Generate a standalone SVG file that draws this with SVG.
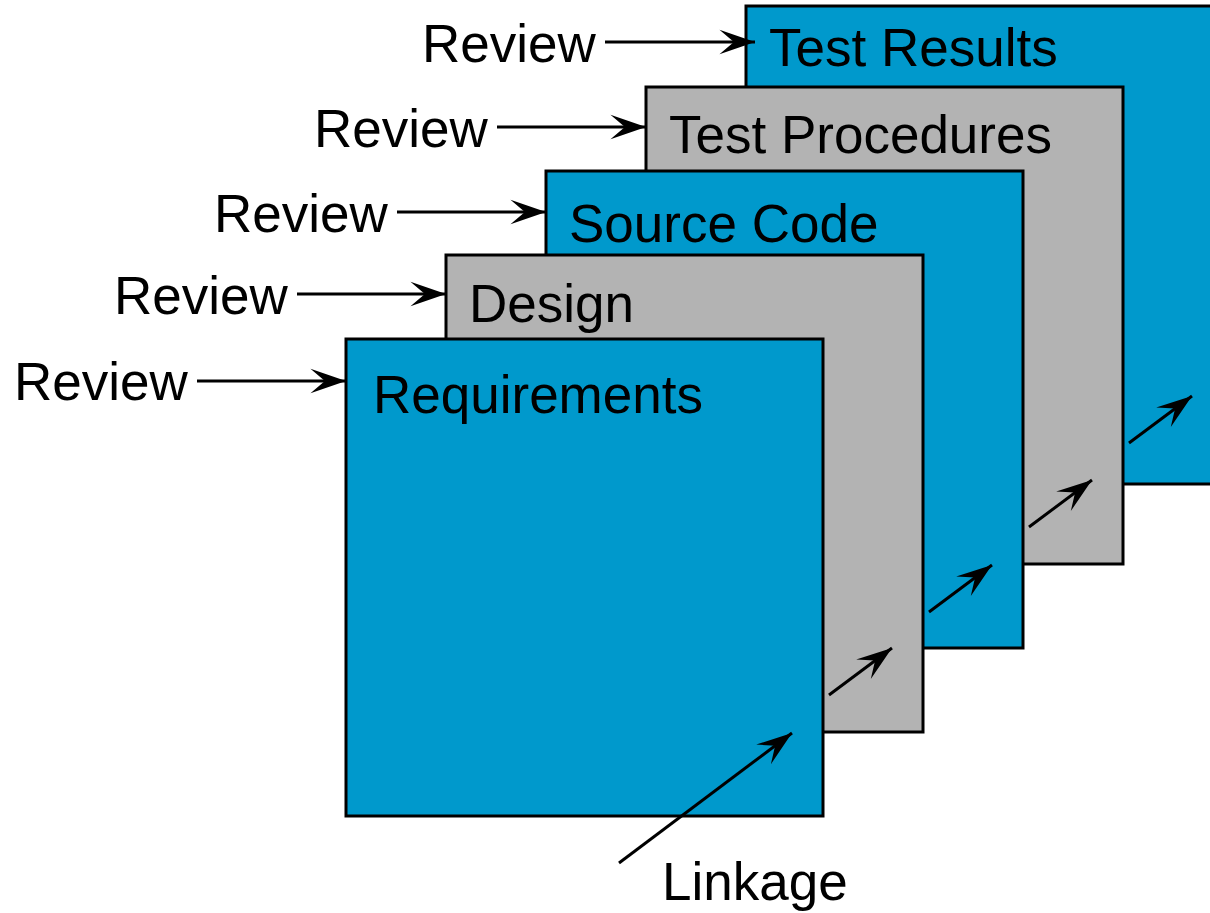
<svg xmlns="http://www.w3.org/2000/svg" width="1210" height="913" viewBox="0 0 1210 913">
  <style>
    .card { stroke: #000; stroke-width: 3; }
    .blue { fill: #0099cc; }
    .gray { fill: #b3b3b3; }
    .lbl { font-family: "Liberation Sans", Arial, sans-serif; font-size: 53px; fill: #000; }
    .conn { stroke: #000; stroke-width: 3; fill: none; marker-end: url(#head); }
  </style>
  <defs>
    <marker id="head" markerUnits="userSpaceOnUse" markerWidth="40" markerHeight="30" viewBox="-34 -12 36 24" refX="0" refY="0" orient="auto">
      <path d="M0,0 L-32,-11 L-19,0 L-32,11 Z" fill="#000"/>
    </marker>
  </defs>

  <rect width="1210" height="913" fill="#fff"/>

  <!-- stacked artifact cards, back to front -->
  <g id="test-results">
    <rect class="card blue" x="746" y="6" width="478" height="478"/>
    <text class="lbl" x="769" y="66">Test Results</text>
  </g>
  <g id="test-procedures">
    <rect class="card gray" x="646" y="87" width="477" height="477"/>
    <text class="lbl" x="669" y="153">Test Procedures</text>
  </g>
  <g id="source-code">
    <rect class="card blue" x="546" y="171" width="477" height="477"/>
    <text class="lbl" x="569" y="242">Source Code</text>
  </g>
  <g id="design">
    <rect class="card gray" x="446" y="255" width="477" height="477"/>
    <text class="lbl" x="469" y="322">Design</text>
  </g>
  <g id="requirements">
    <rect class="card blue" x="346" y="339" width="477" height="477"/>
    <text class="lbl" x="373" y="413">Requirements</text>
  </g>

  <!-- review labels -->
  <g id="review-labels">
    <text class="lbl" x="14" y="400">Review</text>
    <text class="lbl" x="114" y="314">Review</text>
    <text class="lbl" x="214" y="232">Review</text>
    <text class="lbl" x="314" y="147">Review</text>
    <text class="lbl" x="422" y="62">Review</text>
  </g>
  <g id="linkage-label">
    <text class="lbl" x="662" y="900">Linkage</text>
  </g>

  <!-- connectors -->
  <g id="connectors">
    <line class="conn" x1="197" y1="381" x2="346" y2="381"/>
    <line class="conn" x1="297" y1="294" x2="446" y2="294"/>
    <line class="conn" x1="397" y1="212" x2="546" y2="212"/>
    <line class="conn" x1="497" y1="127" x2="646" y2="127"/>
    <line class="conn" x1="605" y1="42" x2="755" y2="42"/>

    <line class="conn" x1="619" y1="863" x2="792" y2="733"/>
    <line class="conn" x1="829" y1="695" x2="892" y2="648"/>
    <line class="conn" x1="929" y1="612" x2="992" y2="565"/>
    <line class="conn" x1="1029" y1="527" x2="1092" y2="480"/>
    <line class="conn" x1="1129" y1="443" x2="1192" y2="396"/>
  </g>
</svg>
